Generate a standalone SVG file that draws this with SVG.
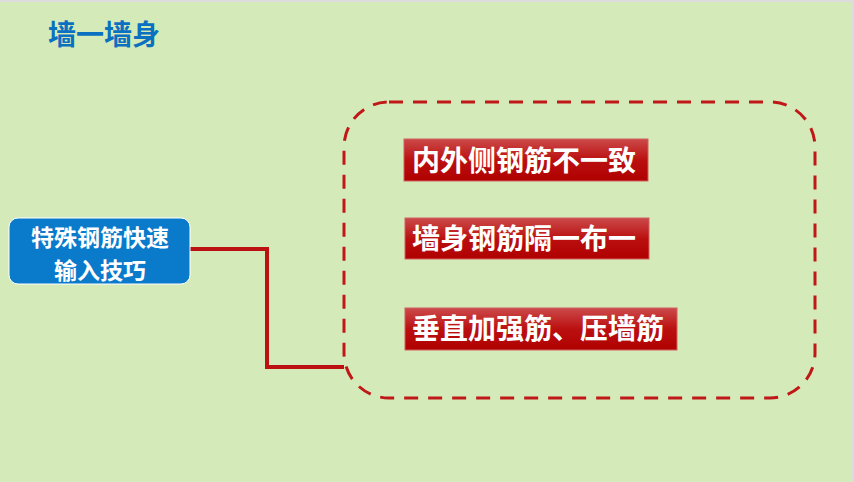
<svg xmlns="http://www.w3.org/2000/svg" width="854" height="482" viewBox="0 0 854 482">
<defs>
<linearGradient id="redg" x1="0" y1="0" x2="0" y2="1">
<stop offset="0" stop-color="#cc4a4a"/>
<stop offset="0.5" stop-color="#bb1010"/>
<stop offset="1" stop-color="#b00000"/>
</linearGradient>
<style>
.cjk{font-family:"Noto Sans CJK SC","Noto Sans",sans-serif;font-weight:bold;}
.red rect{fill:url(#redg);stroke:#d06060;stroke-width:1;}
.red text{fill:#ffffff;font-size:28px;}
.conn{fill:none;stroke:#bb1111;stroke-width:4;}
</style>
</defs>
<rect x="0" y="0" width="854" height="482" fill="#d4ebb9"/>
<rect x="0" y="0" width="854" height="2" fill="#dcdcdc"/>
<rect x="852" y="0" width="2" height="482" fill="#dcdcdc"/>
<text id="title" class="cjk" x="48" y="45" font-size="28" fill="#0a70c0">墙一墙身</text>
<g id="connectors">
<polyline class="conn" points="190,249 267,249 267,367 344,367"/>
<rect x="344" y="102" width="471" height="296" rx="45" ry="45" fill="none" stroke="#c01818" stroke-width="3" stroke-dasharray="14,10"/>
</g>
<g id="node-main">
<rect x="9" y="218" width="181" height="66" rx="9" ry="9" fill="#0a7acb" stroke="#ffffff" stroke-width="1"/>
<text class="cjk" x="100" y="245.5" font-size="23" fill="#ffffff" text-anchor="middle">特殊钢筋快速</text>
<text class="cjk" x="100" y="279" font-size="23" fill="#ffffff" text-anchor="middle">输入技巧</text>
</g>
<g id="node-1" class="red">
<rect x="404" y="139" width="244" height="42"/>
<text class="cjk" x="412" y="171">内外侧钢筋不一致</text>
</g>
<g id="node-2" class="red">
<rect x="405" y="218" width="244" height="41"/>
<text class="cjk" x="412" y="249">墙身钢筋隔一布一</text>
</g>
<g id="node-3" class="red">
<rect x="405" y="308" width="272" height="42"/>
<text class="cjk" x="412" y="339">垂直加强筋、压墙筋</text>
</g>
</svg>
